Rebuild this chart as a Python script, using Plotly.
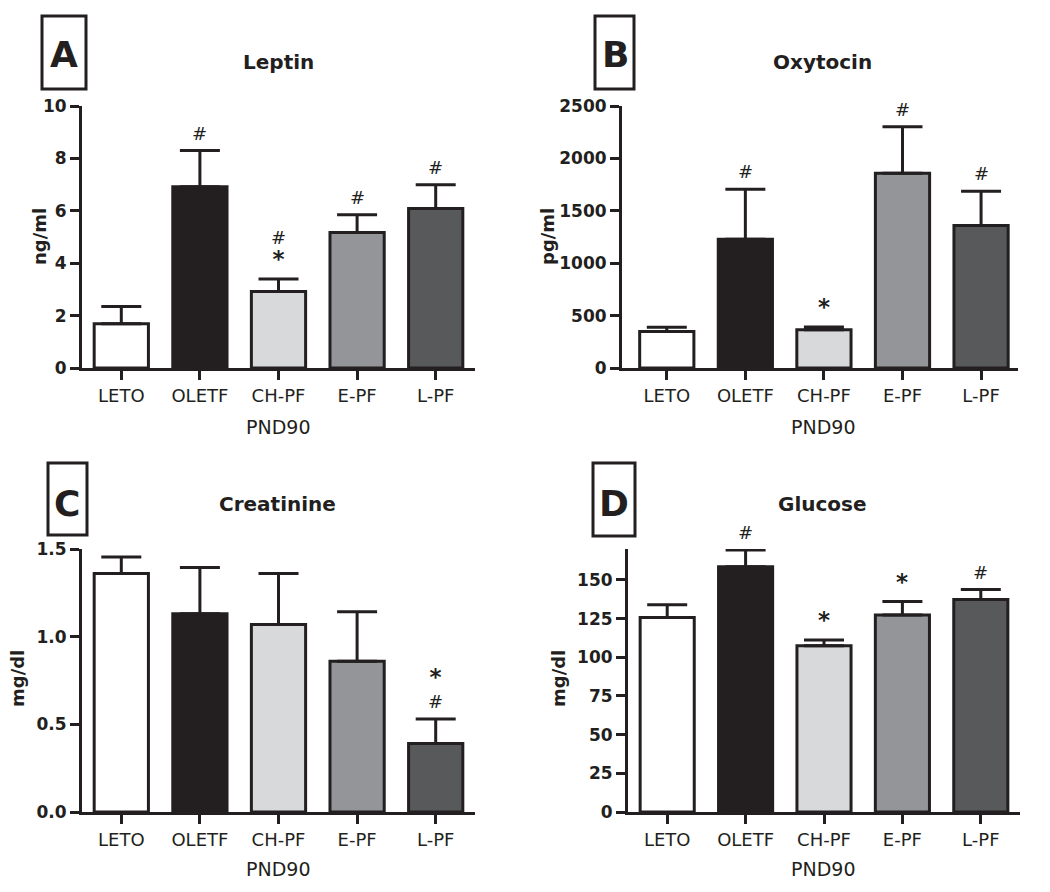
import plotly.graph_objects as go

# figure is drawn inside the page body (8px default margin)
PAGE_MARGIN = 8
W, H = 1050 - 2 * PAGE_MARGIN, 892 - 2 * PAGE_MARGIN

categories = ["LETO", "OLETF", "CH-PF", "E-PF", "L-PF"]
bar_colors = ["#ffffff", "#231f20", "#d8d9db", "#939598", "#58595b"]

leptin_mean = [1.69, 6.92, 2.92, 5.17, 6.09]
leptin_sem = [0.66, 1.38, 0.48, 0.68, 0.90]
leptin_marks = ["", "#", "#<br>*", "#", "#"]

oxytocin_mean = [349, 1229, 365, 1858, 1360]
oxytocin_sem = [39, 477, 26, 445, 327]
oxytocin_marks = ["", "#", "*", "#", "#"]

creatinine_mean = [1.36, 1.13, 1.07, 0.86, 0.39]
creatinine_sem = [0.095, 0.264, 0.29, 0.282, 0.141]
creatinine_marks = ["", "", "", "", "*<br>#"]

glucose_mean = [125.8, 158.6, 107.5, 127.3, 137.3]
glucose_sem = [8.2, 10.8, 3.7, 8.7, 6.5]
glucose_marks = ["", "#", "*", "*", "#"]

FONT = "DejaVu Sans"
INK = "#231f20"


def px(x):
    return (x - PAGE_MARGIN) / W


def py(y):
    return 1 - (y - PAGE_MARGIN) / H


def mark_text(m):
    out = []
    for line in m.split("<br>"):
        if line == "*":
            out.append('<span style="font-size:23px"><b>*</b></span>')
        else:
            out.append(line)
    return "<br>".join(out)


panels = [
    dict(letter="A", title="Leptin", ytitle="ng/ml", mean=leptin_mean, sem=leptin_sem, marks=leptin_marks,
         xdom=(82, 475), ydom=(368, 106), yrange=[0, 10], ytick=[0, 2, 4, 6, 8, 10], ytext=None,
         xr=[-0.5, 4.5], box=(42, 16, 86, 89), lc=(64, 55), tc=(278, 62), ytc=(40, 237), xtc=(278, 427)),
    dict(letter="B", title="Oxytocin", ytitle="pg/ml", mean=oxytocin_mean, sem=oxytocin_sem, marks=oxytocin_marks,
         xdom=(622, 1018), ydom=(368, 106), yrange=[0, 2500], ytick=[0, 500, 1000, 1500, 2000, 2500], ytext=None,
         xr=[-0.57, 4.47], box=(595, 16, 634, 89), lc=(615, 55), tc=(822, 62), ytc=(548, 237), xtc=(823, 427)),
    dict(letter="C", title="Creatinine", ytitle="mg/dl", mean=creatinine_mean, sem=creatinine_sem, marks=creatinine_marks,
         xdom=(82, 475), ydom=(812, 549), yrange=[0, 1.5], ytick=[0, 0.5, 1.0, 1.5], ytext=["0.0", "0.5", "1.0", "1.5"],
         xr=[-0.5, 4.5], box=(48, 463, 87, 535), lc=(67, 503), tc=(277, 504), ytc=(17, 679), xtc=(278, 869)),
    dict(letter="D", title="Glucose", ytitle="mg/dl", mean=glucose_mean, sem=glucose_sem, marks=glucose_marks,
         xdom=(628, 1020), ydom=(812, 549), yrange=[0, 170], ytick=[0, 25, 50, 75, 100, 125, 150], ytext=None,
         xr=[-0.5, 4.5], box=(593, 463, 635, 536), lc=(614, 503), tc=(822, 504), ytc=(558, 679), xtc=(823, 869)),
]

fig = go.Figure()
annotations = []
shapes = []
layout = {}

for i, p in enumerate(panels):
    n = i + 1
    xa = "x" if n == 1 else f"x{n}"
    ya = "y" if n == 1 else f"y{n}"
    fig.add_trace(go.Bar(
        x=categories, y=p["mean"], xaxis=xa, yaxis=ya,
        marker=dict(color=bar_colors, line=dict(color=INK, width=3)),
        width=0.69,
        error_y=dict(type="data", array=p["sem"], arrayminus=[0] * 5, symmetric=False,
                     color=INK, thickness=3, width=20),
        showlegend=False, hoverinfo="skip",
    ))
    xkey = "xaxis" if n == 1 else f"xaxis{n}"
    ykey = "yaxis" if n == 1 else f"yaxis{n}"
    layout[xkey] = dict(
        domain=[px(p["xdom"][0]), px(p["xdom"][1])], anchor=ya, type="category",
        range=p["xr"], showline=True, linecolor=INK, linewidth=3, ticks="outside",
        ticklen=9, tickwidth=3, tickcolor=INK, showgrid=False, zeroline=False,
        tickfont=dict(family=FONT, size=18, color=INK), fixedrange=True, automargin=False,
    )
    yax = dict(
        domain=[py(p["ydom"][0]), py(p["ydom"][1])], anchor=xa, range=p["yrange"],
        showline=True, linecolor=INK, linewidth=3, ticks="outside", ticklen=9,
        tickwidth=3, tickcolor=INK, showgrid=False, zeroline=False,
        tickvals=p["ytick"], tickfont=dict(family=FONT, size=17, color=INK, weight="bold"),
        fixedrange=True, automargin=False,
    )
    if p["ytext"]:
        yax["ticktext"] = p["ytext"]
    layout[ykey] = yax

    # significance marks
    for c, m, s, mk in zip(categories, p["mean"], p["sem"], p["marks"]):
        if mk:
            annotations.append(dict(
                x=c, y=m + s, xref=xa, yref=ya, text=mark_text(mk), showarrow=False,
                yanchor="bottom", yshift=5,
                font=dict(family=FONT, size=18, color=INK),
            ))
    # letter box
    bx0, by0, bx1, by1 = p["box"]
    shapes.append(dict(type="rect", xref="paper", yref="paper",
                       x0=px(bx0), x1=px(bx1), y0=py(by1), y1=py(by0),
                       line=dict(color=INK, width=3)))
    annotations.append(dict(x=px(p["lc"][0]), y=py(p["lc"][1]), xref="paper", yref="paper",
                            text=p["letter"], showarrow=False, xanchor="center", yanchor="middle",
                            font=dict(family=FONT, size=36, color=INK, weight="bold")))
    annotations.append(dict(x=px(p["tc"][0]), y=py(p["tc"][1]), xref="paper", yref="paper",
                            text=p["title"], showarrow=False, xanchor="center", yanchor="middle",
                            font=dict(family=FONT, size=20, color=INK, weight="bold")))
    annotations.append(dict(x=px(p["ytc"][0]), y=py(p["ytc"][1]), xref="paper", yref="paper",
                            text=p["ytitle"], showarrow=False, xanchor="center", yanchor="middle",
                            textangle=-90,
                            font=dict(family=FONT, size=18, color=INK, weight="bold")))
    annotations.append(dict(x=px(p["xtc"][0]), y=py(p["xtc"][1]), xref="paper", yref="paper",
                            text="PND90", showarrow=False, xanchor="center", yanchor="middle",
                            font=dict(family=FONT, size=19, color=INK)))

fig.update_layout(
    width=W, height=H, margin=dict(l=0, r=0, t=0, b=0, autoexpand=False),
    paper_bgcolor="white", plot_bgcolor="white",
    annotations=annotations, shapes=shapes,
    **layout,
)

fig.write_html("out.html")
